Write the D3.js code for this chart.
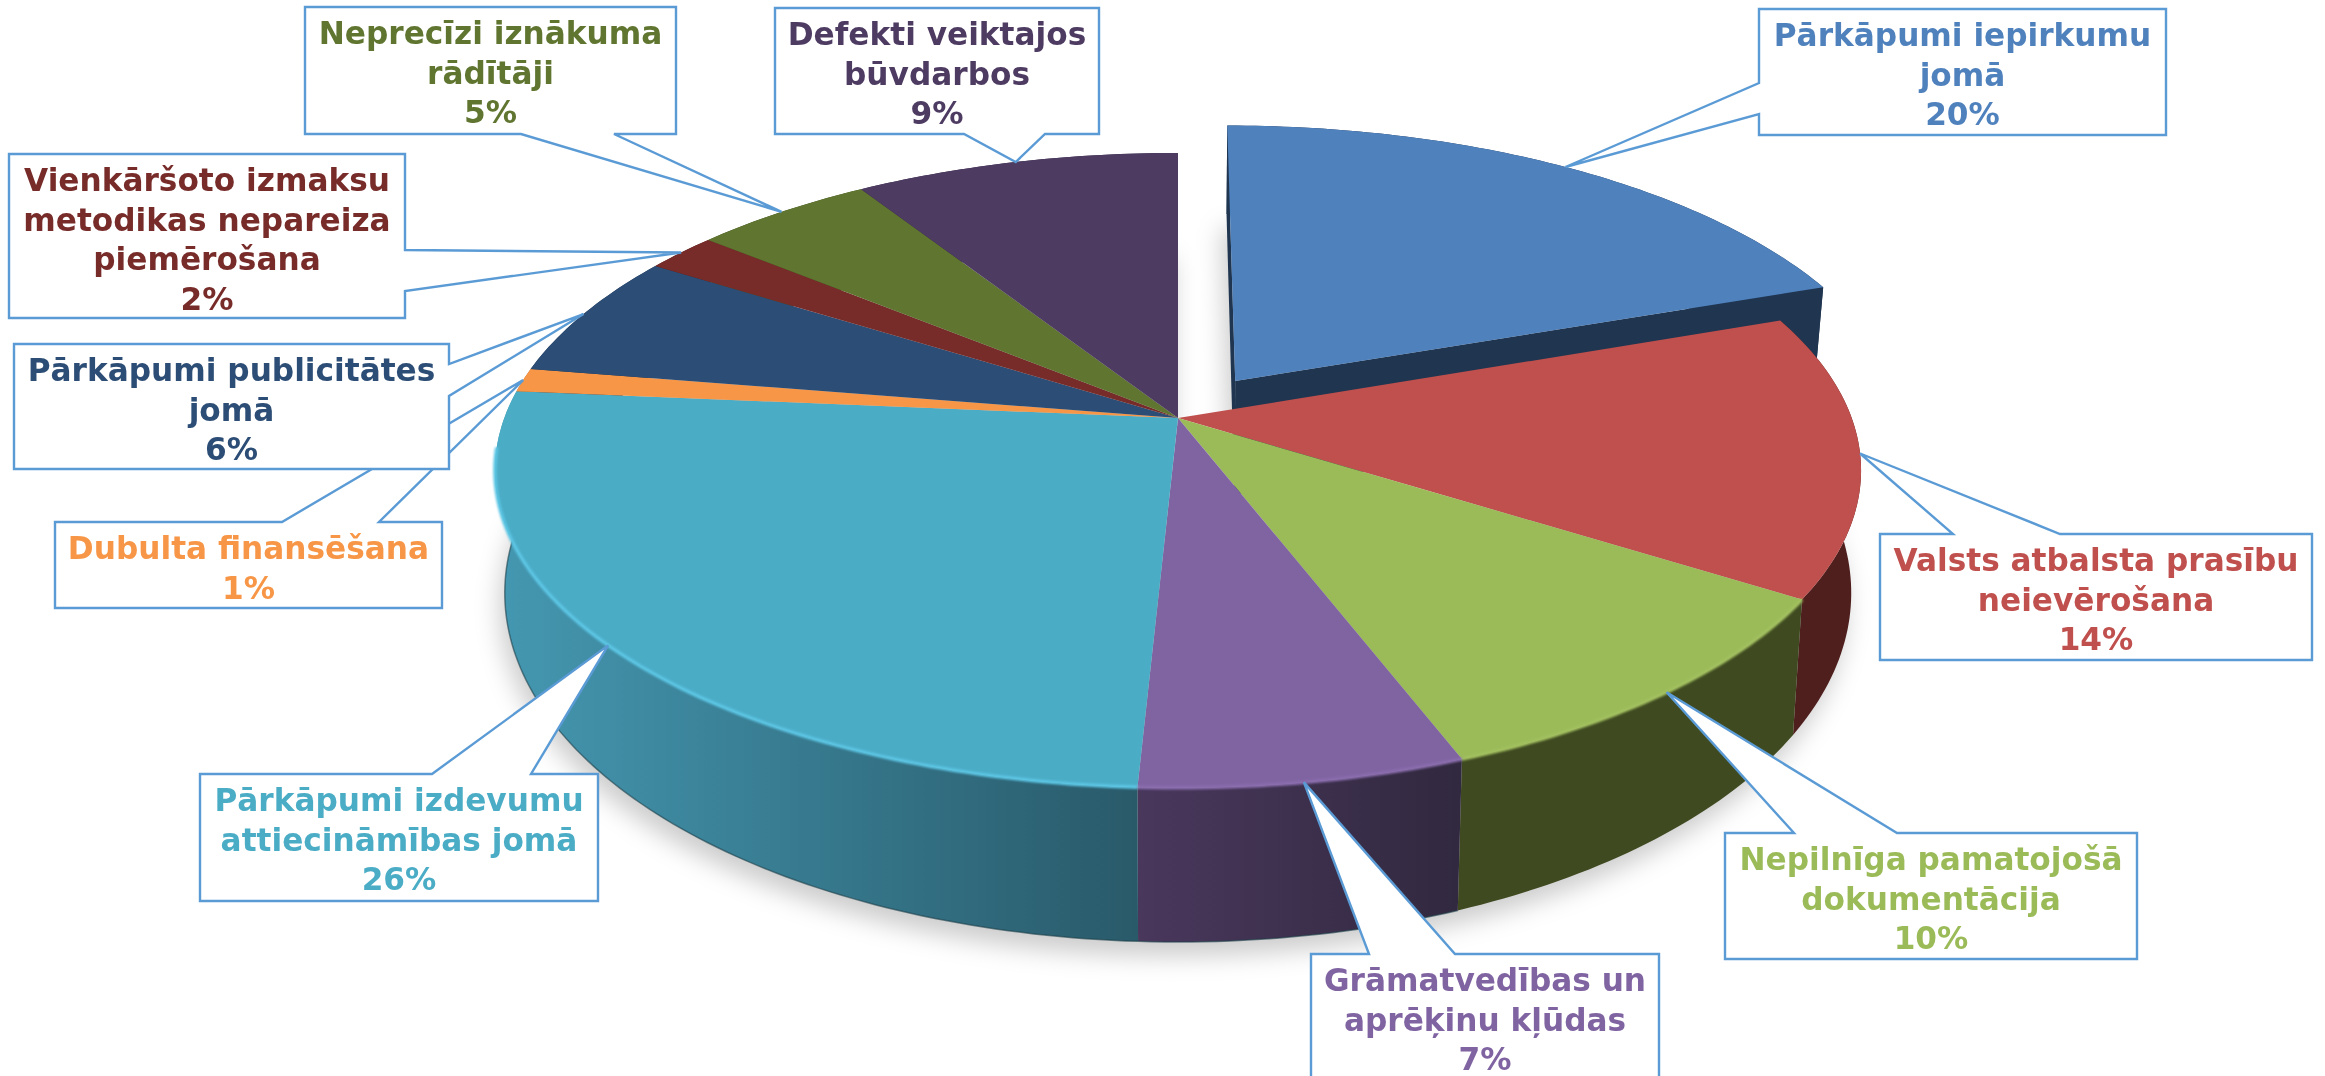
<!DOCTYPE html>
<html>
<head>
<meta charset="utf-8">
<script src="https://cdnjs.cloudflare.com/ajax/libs/d3/7.8.5/d3.min.js"></script>
<style>
  html, body { margin: 0; padding: 0; background: #fff; overflow: hidden; }
  svg { display: block; }
  .callout-text { font-family: "DejaVu Sans", sans-serif; font-weight: bold; font-size: 31.2px; text-anchor: middle; }
</style>
</head>
<body>
<div id="chart"></div>
<script>
// data, clockwise from 12 o'clock. Shares estimated from the slice edges, labels round them
const categories = [
    "Pārkāpumi iepirkumu jomā",
    "Valsts atbalsta prasību neievērošana",
    "Nepilnīga pamatojošā dokumentācija",
    "Grāmatvedības un aprēķinu kļūdas",
    "Pārkāpumi izdevumu attiecināmības jomā",
    "Dubulta finansēšana",
    "Pārkāpumi publicitātes jomā",
    "Vienkāršoto izmaksu metodikas nepareiza piemērošana",
    "Neprecīzi iznākuma rādītāji",
    "Defekti veiktajos būvdarbos"
];
const values = [19.6, 14.4, 10.2, 6.6, 25.6, 1.2, 6.4, 2, 5, 9];
const labelLines = [
    ["Pārkāpumi iepirkumu", "jomā"],
    ["Valsts atbalsta prasību", "neievērošana"],
    ["Nepilnīga pamatojošā", "dokumentācija"],
    ["Grāmatvedības un", "aprēķinu kļūdas"],
    ["Pārkāpumi izdevumu", "attiecināmības jomā"],
    ["Dubulta finansēšana"],
    ["Pārkāpumi publicitātes", "jomā"],
    ["Vienkāršoto izmaksu", "metodikas nepareiza", "piemērošana"],
    ["Neprecīzi iznākuma", "rādītāji"],
    ["Defekti veiktajos", "būvdarbos"]
];
const explodedIndex = 0;

const topColors = ["#4f81bd", "#c0504d", "#9bbb59", "#8064a2", "#4bacc6", "#f79646", "#2c4d75", "#772c2a", "#5f7530", "#4d3b62"];
const wallFrom = ["#1f3550", "#4f1f1d", "#3f4a21", "#49375c", "#4497b0", "#a5642e", "#1c3450", "#4f1d1c", "#3f4e20", "#332741"];
const wallTo = ["#1f3550", "#4f1f1d", "#3f4a21", "#31293f", "#295a6a", "#a5642e", "#1c3450", "#4f1d1c", "#3f4e20", "#332741"];
const rimColors = { 2: "#a2c05f", 3: "#8a6dad", 4: "#5cc6e4" };

// callout boxes: box rect, side the pointer leaves from, pointer base along that side
const calloutBoxes = [
    { x: 1759, y: 9, w: 407, h: 126, side: "left", a: 83, b: 114 },
    { x: 1880, y: 534, w: 432, h: 126, side: "top", a: 1953, b: 2060 },
    { x: 1725, y: 833, w: 412, h: 126, side: "top", a: 1794, b: 1897 },
    { x: 1311, y: 954, w: 348, h: 140, side: "top", a: 1369, b: 1455 },
    { x: 200, y: 774, w: 398, h: 127, side: "top", a: 432, b: 531 },
    { x: 55, y: 522, w: 387, h: 86, side: "top", a: 282, b: 379 },
    { x: 14, y: 344, w: 435, h: 125, side: "right", a: 364, b: 396 },
    { x: 9, y: 154, w: 396, h: 164, side: "right", a: 250, b: 291 },
    { x: 305, y: 7, w: 371, h: 127, side: "bottom", a: 521, b: 614 },
    { x: 775, y: 8, w: 324, h: 126, side: "bottom", a: 964, b: 1045 }
];
const calloutOrder = [5, 6, 7, 8, 9, 0, 1, 2, 3, 4];

const width = 2325, height = 1076;

// perspective view of the pie: top plane and the bottom plane under it
const topPlane = { cx: 1178, cy: 418, s: 673.7, b: 308.8, a: 0.165 };
const bottomPlane = { cx: 1178, cy: 535.4, s: 664, b: 339.5, a: 0.165 };
const explode = 0.15;
const rimEndLimit = 1.47 * Math.PI;

function project(angle, r, plane, off) {
    const X = r * Math.sin(angle) + off[0];
    const Y = -r * Math.cos(angle) + off[1];
    const d = 1 - plane.a * Y;
    return [plane.cx + plane.s * X / d, plane.cy + plane.b * Y / d];
}

function rim(start, end, plane, off) {
    const n = Math.max(2, Math.ceil((end - start) * 60));
    return d3.range(n + 1).map(i => project(start + (end - start) * i / n, 1, plane, off));
}

const line = d3.line();
const percent = d3.format(".0f");
const arcs = d3.pie().value(d => d).sort(null)(values);
const offsets = arcs.map((d, i) => {
    if (i !== explodedIndex) return [0, 0];
    const mid = (d.startAngle + d.endAngle) / 2;
    return [explode * Math.sin(mid), -explode * Math.cos(mid)];
});

const svg = d3.select("#chart").append("svg").attr("width", width).attr("height", height);
const defs = svg.append("defs");

defs.append("filter").attr("id", "soft").attr("x", "-20%").attr("y", "-20%").attr("width", "140%").attr("height", "140%")
    .append("feGaussianBlur").attr("stdDeviation", 12);
defs.append("filter").attr("id", "rimblur").attr("filterUnits", "userSpaceOnUse")
    .attr("x", 0).attr("y", 0).attr("width", width).attr("height", height)
    .append("feGaussianBlur").attr("stdDeviation", 0.9);

function facePath(d, i, plane) {
    const off = offsets[i];
    const centre = project(0, 0, plane, off);
    return line([centre].concat(rim(d.startAngle, d.endAngle, plane, off))) + "Z";
}

function wallPath(d, i) {
    const off = offsets[i];
    const upper = rim(d.startAngle, d.endAngle, topPlane, off);
    const lower = rim(d.startAngle, d.endAngle, bottomPlane, off).reverse();
    return line(upper.concat(lower)) + "Z";
}

arcs.forEach((d, i) => {
    const left = project(d.startAngle, 1, topPlane, offsets[i])[0];
    const right = project(d.endAngle, 1, topPlane, offsets[i])[0];
    const grad = defs.append("linearGradient").attr("id", `wall${i}`)
        .attr("gradientUnits", "userSpaceOnUse")
        .attr("x1", Math.min(left, right)).attr("x2", Math.max(left, right))
        .attr("y1", 0).attr("y2", 0);
    // teal slice curls round past the left extreme, so stretch it there
    if (i === 4) grad.attr("x1", topPlane.cx - topPlane.s);
    grad.append("stop").attr("offset", 0).attr("stop-color", wallFrom[i]);
    grad.append("stop").attr("offset", 1).attr("stop-color", wallTo[i]);
});

// ground shadows
const shadow = svg.append("g").attr("filter", "url(#soft)").attr("transform", "translate(-5,14)");
shadow.selectAll("path").data(arcs).join("path")
    .attr("d", (d, i) => facePath(d, i, bottomPlane))
    .attr("fill", "#000").attr("opacity", 0.2);

const drawWall = (g, i) => {
    g.append("path").attr("d", wallPath(arcs[i], i)).attr("fill", `url(#wall${i})`);
};

const drawTop = (g, i) => {
    g.append("path").attr("d", facePath(arcs[i], i, topPlane)).attr("fill", topColors[i])
        .append("title").text(categories[i]);
};

// exploded slice sits behind the rest
const exploded = svg.append("g").attr("class", "exploded");
const ex = arcs[explodedIndex], exOff = offsets[explodedIndex];
[ex.startAngle, ex.endAngle].forEach(angle => {
    exploded.append("path")
        .attr("d", line([
            project(0, 0, topPlane, exOff),
            project(angle, 1, topPlane, exOff),
            project(angle, 1, bottomPlane, exOff),
            project(0, 0, bottomPlane, exOff)
        ]) + "Z")
        .attr("fill", wallFrom[explodedIndex]);
});
drawWall(exploded, explodedIndex);
drawTop(exploded, explodedIndex);

const rest = arcs.map((d, i) => i).filter(i => i !== explodedIndex);

const walls = svg.append("g").attr("class", "walls");
rest.forEach(i => drawWall(walls, i));

// thin dark line under the wall
svg.append("g").selectAll("path").data(rest.filter(i => wallFrom[i] !== wallTo[i])).join("path")
    .attr("d", i => line(rim(arcs[i].startAngle, arcs[i].endAngle, bottomPlane, [0, 0])))
    .attr("fill", "none").attr("stroke", "#1d3f4a").attr("stroke-width", 1.5).attr("opacity", 0.6);

const tops = svg.append("g").attr("class", "tops");
rest.forEach(i => drawTop(tops, i));

// lit edge along the front rim
svg.append("g").attr("filter", "url(#rimblur)").selectAll("path").data(Object.keys(rimColors).map(Number)).join("path")
    .attr("d", i => line(rim(arcs[i].startAngle, Math.min(arcs[i].endAngle, rimEndLimit), topPlane, [0, 0])))
    .attr("fill", "none")
    .attr("stroke", i => rimColors[i])
    .attr("stroke-width", 3.5);

// callouts
function calloutPath(box, tip) {
    const x0 = box.x, x1 = box.x + box.w, y0 = box.y, y1 = box.y + box.h;
    const path = d3.path();
    path.moveTo(x0, y0);
    if (box.side === "top") { path.lineTo(box.a, y0); path.lineTo(tip[0], tip[1]); path.lineTo(box.b, y0); }
    path.lineTo(x1, y0);
    if (box.side === "right") { path.lineTo(x1, box.a); path.lineTo(tip[0], tip[1]); path.lineTo(x1, box.b); }
    path.lineTo(x1, y1);
    if (box.side === "bottom") { path.lineTo(box.b, y1); path.lineTo(tip[0], tip[1]); path.lineTo(box.a, y1); }
    path.lineTo(x0, y1);
    if (box.side === "left") { path.lineTo(x0, box.b); path.lineTo(tip[0], tip[1]); path.lineTo(x0, box.a); }
    path.closePath();
    return path.toString();
}

const callouts = svg.append("g").attr("class", "callouts");
calloutOrder.forEach(i => {
    const box = calloutBoxes[i];
    const mid = (arcs[i].startAngle + arcs[i].endAngle) / 2;
    const tip = project(mid, 1, topPlane, offsets[i]);
    const g = callouts.append("g");
    g.append("path")
        .attr("d", calloutPath(box, tip))
        .attr("fill", "#fff")
        .attr("stroke", "#5b9bd5")
        .attr("stroke-width", 2.4)
        .attr("stroke-linejoin", "miter");
    const rows = labelLines[i].concat(`${percent(values[i])}%`);
    g.append("text").attr("class", "callout-text").attr("fill", topColors[i])
        .selectAll("tspan").data(rows).join("tspan")
        .attr("x", box.x + box.w / 2)
        .attr("y", (d, k) => box.y + 37 + k * 39.5)
        .text(d => d);
});
</script>
</body>
</html>
